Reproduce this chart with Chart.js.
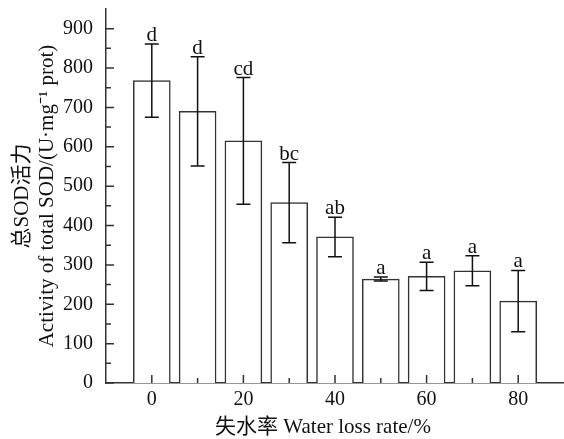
<!DOCTYPE html>
<html>
<head>
<meta charset="utf-8">
<script src="https://cdn.jsdelivr.net/npm/chart.js@4.4.0/dist/chart.umd.min.js"></script>
<style>
    html, body { margin: 0; padding: 0; background: #fff; }
    #wrap { width: 564px; height: 439px; }
</style>
</head>
<body>
<div id="wrap"><canvas id="sodChart" width="564" height="439"></canvas></div>
<script>
// Данные: потеря воды (%) и активность SOD
const lossRates = [0, 10, 20, 30, 40, 50, 60, 70, 80];
const sodMeans  = [768, 690, 615, 458, 371, 264, 271, 285, 208];
const sodErrors = [93, 139, 161, 102, 50, 5, 36, 38, 78];
const sigLetters = ['d', 'd', 'cd', 'bc', 'ab', 'a', 'a', 'a', 'a'];

const xTickValues = [0, 20, 40, 60, 80];
const xMinorValues = [10, 30, 50, 70];
const yTickValues = [0, 100, 200, 300, 400, 500, 600, 700, 800, 900];
const yMinorValues = [50, 150, 250, 350, 450, 550, 650, 750, 850];

const xTitle = '失水率 Water loss rate/%';
const serif = "'Liberation Serif', 'Times New Roman', 'Noto Sans CJK SC', serif";
const axisColor = '#333';

// Планки погрешностей, буквы, внутренние засечки и подпись оси X
const extrasPlugin = {
    id: 'extras',
    afterDatasetsDraw(chart) {
        const ctx = chart.ctx;
        const xs = chart.scales.x;
        const ys = chart.scales.y;
        ctx.save();
        ctx.strokeStyle = '#111';
        ctx.lineWidth = 1.5;
        ctx.fillStyle = '#111';
        ctx.font = '21px ' + serif;
        ctx.textAlign = 'center';
        ctx.textBaseline = 'alphabetic';
        lossRates.forEach((r, i) => {
            const x = xs.getPixelForValue(r);
            const top = ys.getPixelForValue(sodMeans[i] + sodErrors[i]);
            const bot = ys.getPixelForValue(sodMeans[i] - sodErrors[i]);
            ctx.beginPath();
            ctx.moveTo(x, top); ctx.lineTo(x, bot);
            ctx.moveTo(x - 7, top); ctx.lineTo(x + 7, top);
            ctx.moveTo(x - 7, bot); ctx.lineTo(x + 7, bot);
            ctx.stroke();
            ctx.fillText(sigLetters[i], x, top - 3);
        });

        // засечки внутрь
        ctx.strokeStyle = axisColor;
        ctx.lineWidth = 1.5;
        const y0 = ys.bottom;
        const x0 = xs.left;
        ctx.beginPath();
        xTickValues.forEach(v => { const x = xs.getPixelForValue(v); ctx.moveTo(x, y0); ctx.lineTo(x, y0 - 8); });
        xMinorValues.forEach(v => { const x = xs.getPixelForValue(v); ctx.moveTo(x, y0); ctx.lineTo(x, y0 - 5); });
        yTickValues.forEach(v => { const y = ys.getPixelForValue(v); ctx.moveTo(x0, y); ctx.lineTo(x0 + 8, y); });
        yMinorValues.forEach(v => { const y = ys.getPixelForValue(v); ctx.moveTo(x0, y); ctx.lineTo(x0 + 5, y); });
        ctx.stroke();

        // подпись оси X (чуть левее центра, как в оригинале)
        ctx.textBaseline = 'middle';
        ctx.fillText(xTitle, (xs.left + xs.right) / 2 - 12, xs.bottom - 12);
        ctx.restore();
    }
};

new Chart(document.getElementById('sodChart'), {
    type: 'bar',
    data: {
        datasets: [{
            data: lossRates.map((r, i) => ({ x: r, y: sodMeans[i] })),
            backgroundColor: '#fff',
            borderColor: axisColor,
            borderWidth: 1.5,
            barThickness: 37
        }]
    },
    options: {
        responsive: false,
        animation: false,
        layout: { padding: { top: 9, right: 0, left: 0, bottom: 0 } },
        plugins: { legend: { display: false }, tooltip: { enabled: false } },
        scales: {
            x: {
                type: 'linear',
                min: -10,
                max: 90,
                offset: false,
                grid: { display: false, drawTicks: false },
                border: { display: true, color: axisColor, width: 1.5 },
                afterBuildTicks: s => { s.ticks = xTickValues.map(v => ({ value: v })); },
                afterFit: s => { s.height = 56; s.paddingLeft = 0; s.paddingRight = 0; },
                ticks: { color: '#111', padding: 5, font: { family: serif, size: 20 } }
            },
            y: {
                min: 0,
                max: 950,
                grid: { display: false, drawTicks: false },
                border: { display: true, color: axisColor, width: 1.5 },
                afterBuildTicks: s => { s.ticks = yTickValues.map(v => ({ value: v })); },
                afterFit: s => { s.width = 106; s.paddingTop = 0; s.paddingBottom = 0; },
                ticks: { color: '#111', padding: 13, font: { family: serif, size: 20 } },
                title: {
                    display: true,
                    text: ['总SOD活力', 'Activity of total SOD/(U·mg⁻¹ prot)'],
                    color: '#111',
                    padding: { top: 10, bottom: 0 },
                    font: { family: serif, size: 21, lineHeight: '25px' }
                }
            }
        }
    },
    plugins: [extrasPlugin]
});
</script>
</body>
</html>
